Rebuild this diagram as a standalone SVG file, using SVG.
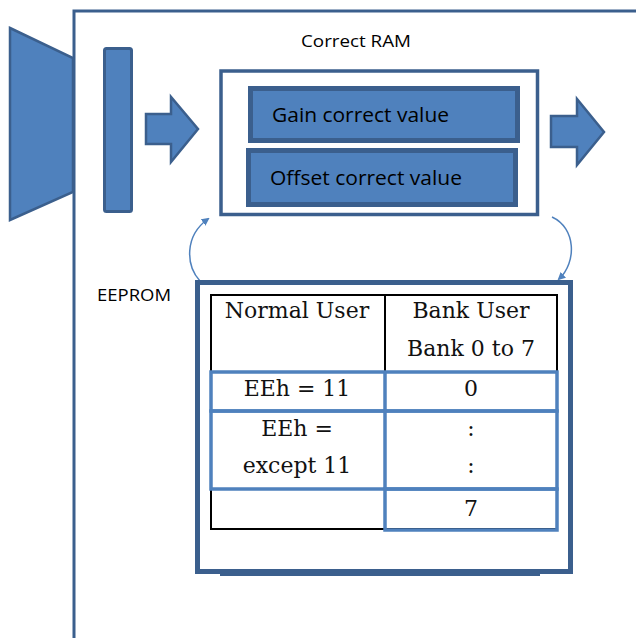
<svg xmlns="http://www.w3.org/2000/svg" width="636" height="638" viewBox="0 0 636 638">
<defs>
<style>
.dk{stroke:#3b5f8d;fill:none}
.blk{fill:#4f81bd;stroke:#3b5f8d}
.sans{font-family:"Open Sans","Liberation Sans",sans-serif;fill:#000}
.ser{font-family:"DejaVu Serif","Liberation Serif",serif;font-size:22px;fill:#111;text-anchor:middle}
.tb{fill:none;stroke:#4f81bd;stroke-width:3.5}
</style>
<marker id="ah" markerWidth="8" markerHeight="8" refX="6" refY="4" orient="auto" markerUnits="userSpaceOnUse">
<path d="M0,0 L8,4 L0,8 z" fill="#4f81bd"/>
</marker>
</defs>
<rect width="636" height="638" fill="#fff"/>
<g id="frame">
<path class="dk" stroke-width="3" d="M74,638 V11 H636"/>
</g>
<g id="sensor">
<polygon class="blk" stroke-width="2.5" points="10,28 73,58 73,192 10,220"/>
</g>
<g id="bar">
<rect class="blk" stroke-width="3" x="104.5" y="48.5" width="27" height="163" rx="2"/>
</g>
<g id="arrow-in">
<polygon class="blk" stroke-width="2.5" points="146,114 171,114 171,97 198,129 171,162 171,144 146,144"/>
</g>
<g id="correct-ram">
<text class="sans" x="301" y="47" font-size="16" textLength="110" lengthAdjust="spacingAndGlyphs">Correct RAM</text>
<rect class="dk" stroke-width="3.5" x="221" y="71" width="316.5" height="143.5"/>
</g>
<g id="gain">
<rect class="blk" stroke-width="5" x="250.5" y="88.5" width="267" height="52"/>
<text class="sans" x="272" y="122" font-size="20" textLength="177" lengthAdjust="spacingAndGlyphs">Gain correct value</text>
</g>
<g id="offset">
<rect class="blk" stroke-width="5" x="248.5" y="150.5" width="267" height="54"/>
<text class="sans" x="270" y="185" font-size="20" textLength="192" lengthAdjust="spacingAndGlyphs">Offset correct value</text>
</g>
<g id="arrow-out">
<polygon class="blk" stroke-width="2.5" points="551,116 577,116 577,99 604,132 577,165 577,147 551,147"/>
</g>
<g id="connectors">
<path d="M200,281 C186,266 184,236 208,219" fill="none" stroke="#4f81bd" stroke-width="1.5" marker-end="url(#ah)"/>
<path d="M552,217 C576,228 577,262 559,279" fill="none" stroke="#4f81bd" stroke-width="1.5" marker-end="url(#ah)"/>
</g>
<g id="eeprom">
<text class="sans" x="97" y="301" font-size="16" textLength="74" lengthAdjust="spacingAndGlyphs">EEPROM</text>
<rect x="220" y="571" width="320" height="5" fill="#3b5f8d"/>
<rect class="dk" stroke-width="5" x="197.5" y="282.5" width="373" height="289"/>
</g>
<g id="table">
<rect x="211" y="295" width="346" height="234" fill="none" stroke="#000" stroke-width="2"/>
<line x1="385" y1="295" x2="385" y2="372" stroke="#000" stroke-width="2"/>
<rect class="tb" x="211" y="372" width="346" height="39"/>
<rect class="tb" x="211" y="411" width="346" height="78"/>
<rect class="tb" x="385" y="489" width="172" height="41"/>
<line class="tb" x1="385" y1="372" x2="385" y2="489"/>
<text class="ser" x="297" y="318">Normal User</text>
<text class="ser" x="471" y="318">Bank User</text>
<text class="ser" x="471" y="356">Bank 0 to 7</text>
<text class="ser" x="297" y="396">EEh = 11</text>
<text class="ser" x="471" y="396">0</text>
<text class="ser" x="297" y="436">EEh =</text>
<text class="ser" x="471" y="436">:</text>
<text class="ser" x="297" y="473">except 11</text>
<text class="ser" x="471" y="473">:</text>
<text class="ser" x="471" y="516">7</text>
</g>
</svg>
